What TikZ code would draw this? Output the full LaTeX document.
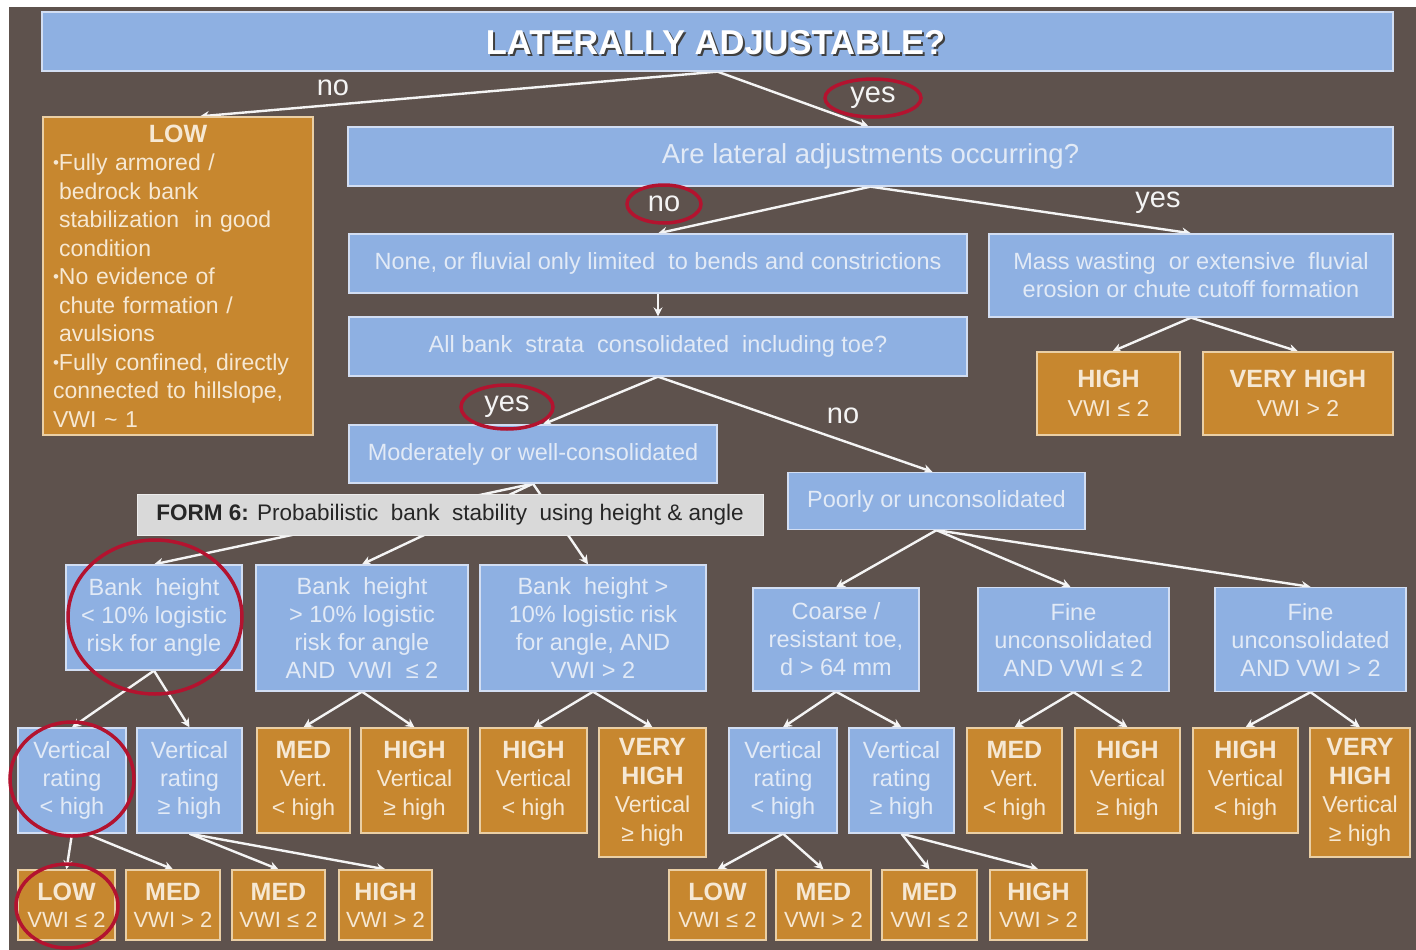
\documentclass[tikz,border=0pt]{standalone}
\usepackage{fontspec}
\setmainfont{Liberation Sans}
\usetikzlibrary{arrows.meta,shapes.geometric}
\definecolor{bgbrown}{HTML}{5E524D}
\definecolor{boxblue}{HTML}{8EB0E2}
\definecolor{blueedge}{HTML}{D2DEF3}
\definecolor{bluetext}{HTML}{E2EAF6}
\definecolor{boxorange}{HTML}{C7872F}
\definecolor{orangeedge}{HTML}{EACFA5}
\definecolor{orangetext}{HTML}{F6E8D3}
\definecolor{ringred}{HTML}{B3132F}
\definecolor{formgrey}{HTML}{D9D9D9}
\definecolor{arrowwhite}{HTML}{F4F4F4}
\pgfdeclarelayer{back}
\pgfsetlayers{back,main}
\tikzset{
  bbox/.style={draw=blueedge, line width=1.3pt, fill=boxblue, text=bluetext, align=center, inner sep=0pt, font=\fontsize{23.5}{28}\selectfont},
  obox/.style={draw=orangeedge, line width=1.3pt, fill=boxorange, text=orangetext, align=center, inner sep=0pt, font=\fontsize{23}{28.5}\selectfont},
  lowbox/.style={obox, minimum height=70, font=\fontsize{22}{27}\selectfont},
  lbl/.style={text=arrowwhite, font=\fontsize{29}{30}\selectfont, inner sep=0pt},
  ring/.style={ellipse, draw=ringred, line width=3.5pt, inner sep=0pt},
  arr/.style={draw=arrowwhite, line width=2.4pt, -{Stealth[length=9pt,width=9pt]}},
}
\newcommand{\hd}[1]{{\fontsize{25}{28}\selectfont\bfseries #1}}
\newcommand{\bul}{\raisebox{0.15ex}{\fontsize{17}{17}\selectfont •}}
\newcommand{\ind}{\hspace*{6pt}}
\begin{document}
\begin{tikzpicture}[x=1pt,y=-1pt]
\useasboundingbox (0,0) rectangle (1416,950);
\begin{pgfonlayer}{back}
\fill[white] (0,0) rectangle (1416,950);
\fill[bgbrown] (9,7) rectangle (1416,950);
\end{pgfonlayer}

% title
\node[bbox, minimum width=1351, minimum height=59] (title) at (717.5,41.5) {};
\node[text=black!75, font=\fontsize{34.5}{36}\selectfont\bfseries, inner sep=0pt] (titleshadow) at (717.5,44.5) {LATERALLY ADJUSTABLE?};
\node[text=white, font=\fontsize{34.5}{36}\selectfont\bfseries, inner sep=0pt] (titletext) at (715.5,42.5) {LATERALLY ADJUSTABLE?};

% left LOW box
\node[obox, minimum width=270, minimum height=318, text width=250, align=left] (low0) at (178,276)
 {\makebox[250pt][c]{\hd{LOW}}\\
  \bul Fully armored /\\
  \ind bedrock bank\\
  \ind stabilization\ \ in good\\
  \ind condition\\
  \bul No evidence of\\
  \ind chute formation /\\
  \ind avulsions\\
  \bul Fully confined, directly\\
  connected to hillslope,\\
  VWI \textasciitilde\ 1};

% question boxes
\node[bbox, minimum width=1045, minimum height=59, font=\fontsize{27.5}{30}\selectfont] (q2) at (870.5,156.5) {Are lateral adjustments occurring?};
\node[bbox, minimum width=618, minimum height=59] (none) at (658,263.5) {None, or fluvial only limited\ \ to bends and constrictions};
\node[bbox, minimum width=618, minimum height=59] (allbank) at (658,346.5) {All bank\ \ strata\ \ consolidated\ \ including toe?};
\node[bbox, minimum width=404, minimum height=83] (mass) at (1191,275.5) {Mass wasting\ \ or extensive\ \ fluvial\\erosion or chute cutoff formation};
\node[obox, minimum width=143, minimum height=83] (highA) at (1108.5,393.5) {\hd{HIGH}\\VWI ≤ 2};
\node[obox, minimum width=190, minimum height=83] (vhighA) at (1298,393.5) {\hd{VERY HIGH}\\VWI > 2};
\node[bbox, minimum width=368, minimum height=58] (moder) at (533,454) {Moderately or well-consolidated};
\node[bbox, minimum width=297, minimum height=57] (poorly) at (936.5,501) {Poorly or unconsolidated};
\node[draw=white!85!gray, line width=1pt, fill=formgrey, text=black!85, inner sep=0pt, font=\fontsize{22.5}{24}\selectfont, minimum width=626, minimum height=41] (form) at (450,514.5) {\textbf{FORM 6:} Probabilistic\ \ bank\ \ stability\ \ using height \& angle};

% second level
\node[bbox, minimum width=176, minimum height=105] (bank1) at (154,617.5) {Bank\ \ height\\< 10\% logistic\\risk for angle};
\node[bbox, minimum width=212, minimum height=126] (bank2) at (362,628) {Bank\ \ height\\> 10\% logistic\\risk for angle\\AND\ \ VWI\ \ ≤ 2};
\node[bbox, minimum width=226, minimum height=126] (bank3) at (593,628) {Bank\ \ height >\\10\% logistic risk\\for angle, AND\\VWI > 2};
\node[bbox, minimum width=166, minimum height=103] (coarse) at (836,639.5) {Coarse /\\resistant toe,\\d > 64 mm};
\node[bbox, minimum width=191, minimum height=104] (fine1) at (1073.5,639.5) {Fine\\unconsolidated\\AND VWI ≤ 2};
\node[bbox, minimum width=191, minimum height=104] (fine2) at (1310.5,639.5) {Fine\\unconsolidated\\AND VWI > 2};

% third level
\node[bbox, minimum width=108, minimum height=105] (v1) at (72,780.5) {Vertical\\rating\\< high};
\node[bbox, minimum width=105, minimum height=105] (v2) at (189.5,780.5) {Vertical\\rating\\≥ high};
\node[obox, minimum width=93, minimum height=105] (m1) at (303.5,780.5) {\hd{MED}\\Vert.\\< high};
\node[obox, minimum width=107, minimum height=105] (h1) at (414.5,780.5) {\hd{HIGH}\\Vertical\\≥ high};
\node[obox, minimum width=107, minimum height=105] (h2) at (533.5,780.5) {\hd{HIGH}\\Vertical\\< high};
\node[obox, minimum width=107, minimum height=129] (vh1) at (652.5,792.5) {\hd{VERY}\\\hd{HIGH}\\Vertical\\≥ high};
\node[bbox, minimum width=108, minimum height=105] (v3) at (783,780.5) {Vertical\\rating\\< high};
\node[bbox, minimum width=105, minimum height=105] (v4) at (901.5,780.5) {Vertical\\rating\\≥ high};
\node[obox, minimum width=95, minimum height=105] (m2) at (1014.5,780.5) {\hd{MED}\\Vert.\\< high};
\node[obox, minimum width=105, minimum height=105] (h3) at (1127.5,780.5) {\hd{HIGH}\\Vertical\\≥ high};
\node[obox, minimum width=105, minimum height=105] (h4) at (1245.5,780.5) {\hd{HIGH}\\Vertical\\< high};
\node[obox, minimum width=100, minimum height=129] (vh2) at (1360,792.5) {\hd{VERY}\\\hd{HIGH}\\Vertical\\≥ high};

% bottom row
\node[lowbox, minimum width=97] (b1) at (66.5,905) {\hd{LOW}\\VWI ≤ 2};
\node[lowbox, minimum width=94] (b2) at (173,905) {\hd{MED}\\VWI > 2};
\node[lowbox, minimum width=93] (b3) at (278.5,905) {\hd{MED}\\VWI ≤ 2};
\node[lowbox, minimum width=93] (b4) at (385.5,905) {\hd{HIGH}\\VWI > 2};
\node[lowbox, minimum width=97] (b5) at (717.5,905) {\hd{LOW}\\VWI ≤ 2};
\node[lowbox, minimum width=95] (b6) at (823.5,905) {\hd{MED}\\VWI > 2};
\node[lowbox, minimum width=95] (b7) at (929.5,905) {\hd{MED}\\VWI ≤ 2};
\node[lowbox, minimum width=97] (b8) at (1038.5,905) {\hd{HIGH}\\VWI > 2};

% labels
\node[lbl] (noA) at (333,88) {no};
\node[lbl, ring, minimum width=96, minimum height=38] (yesA) at (873,98) {yes};
\node[lbl, ring, minimum width=74, minimum height=38] (noB) at (664,204) {no};
\node[lbl] (yesB) at (1158,203) {yes};
\node[lbl, ring, minimum width=92, minimum height=44] (yesC) at (507,407) {yes};
\node[lbl] (noC) at (843,416) {no};

% rings around boxes
\node[ring, minimum width=174, minimum height=154] (ringbank) at (155,617) {};
\node[ring, minimum width=124, minimum height=114] (ringv) at (72,779) {};
\node[ring, minimum width=102, minimum height=84] (ringlow) at (67,906) {};

% connectors
\begin{pgfonlayer}{back}
\draw[arr] (title.south) -- ([xshift=22pt]low0.north);
\draw[arr] (title.south) -- ([xshift=-2pt]q2.north);
\draw[arr] (q2.south) -- (none.north);
\draw[arr] (q2.south) -- (mass.north);
\draw[arr] (none.south) -- (allbank.north);
\draw[arr] (mass.south) -- ([xshift=4pt]highA.north);
\draw[arr] (mass.south) -- (vhighA.north);
\draw[arr] (allbank.south) -- ([xshift=10pt]moder.north);
\draw[arr] (allbank.south) -- ([xshift=-4pt]poorly.north);
\draw[arr] (moder.south) -- (bank1.north);
\draw[arr] (moder.south) -- (bank2.north);
\draw[arr] (moder.south) -- ([xshift=-5pt]bank3.north);
\draw[arr] (poorly.south) -- (coarse.north);
\draw[arr] (poorly.south) -- ([xshift=-3pt]fine1.north);
\draw[arr] (poorly.south) -- (fine2.north);
\draw[arr] (bank1.south) -- (v1.north);
\draw[arr] (bank1.south) -- (v2.north);
\draw[arr] (bank2.south) -- (m1.north);
\draw[arr] (bank2.south) -- (h1.north);
\draw[arr] (bank3.south) -- (h2.north);
\draw[arr] (bank3.south) -- (vh1.north);
\draw[arr] (coarse.south) -- (v3.north);
\draw[arr] (coarse.south) -- (v4.north);
\draw[arr] (fine1.south) -- (m2.north);
\draw[arr] (fine1.south) -- (h3.north);
\draw[arr] (fine2.south) -- (h4.north);
\draw[arr] (fine2.south) -- (vh2.north);
\draw[arr] (v1.south) -- (b1.north);
\draw[arr] ([xshift=14pt]v1.south) -- (b2.north);
\draw[arr] (v2.south) -- (b3.north);
\draw[arr] (v2.south) -- (b4.north);
\draw[arr] (v3.south) -- (b5.north);
\draw[arr] (v3.south) -- (b6.north);
\draw[arr] (v4.south) -- (b7.north);
\draw[arr] (v4.south) -- (b8.north);
\end{pgfonlayer}
\end{tikzpicture}
\end{document}
